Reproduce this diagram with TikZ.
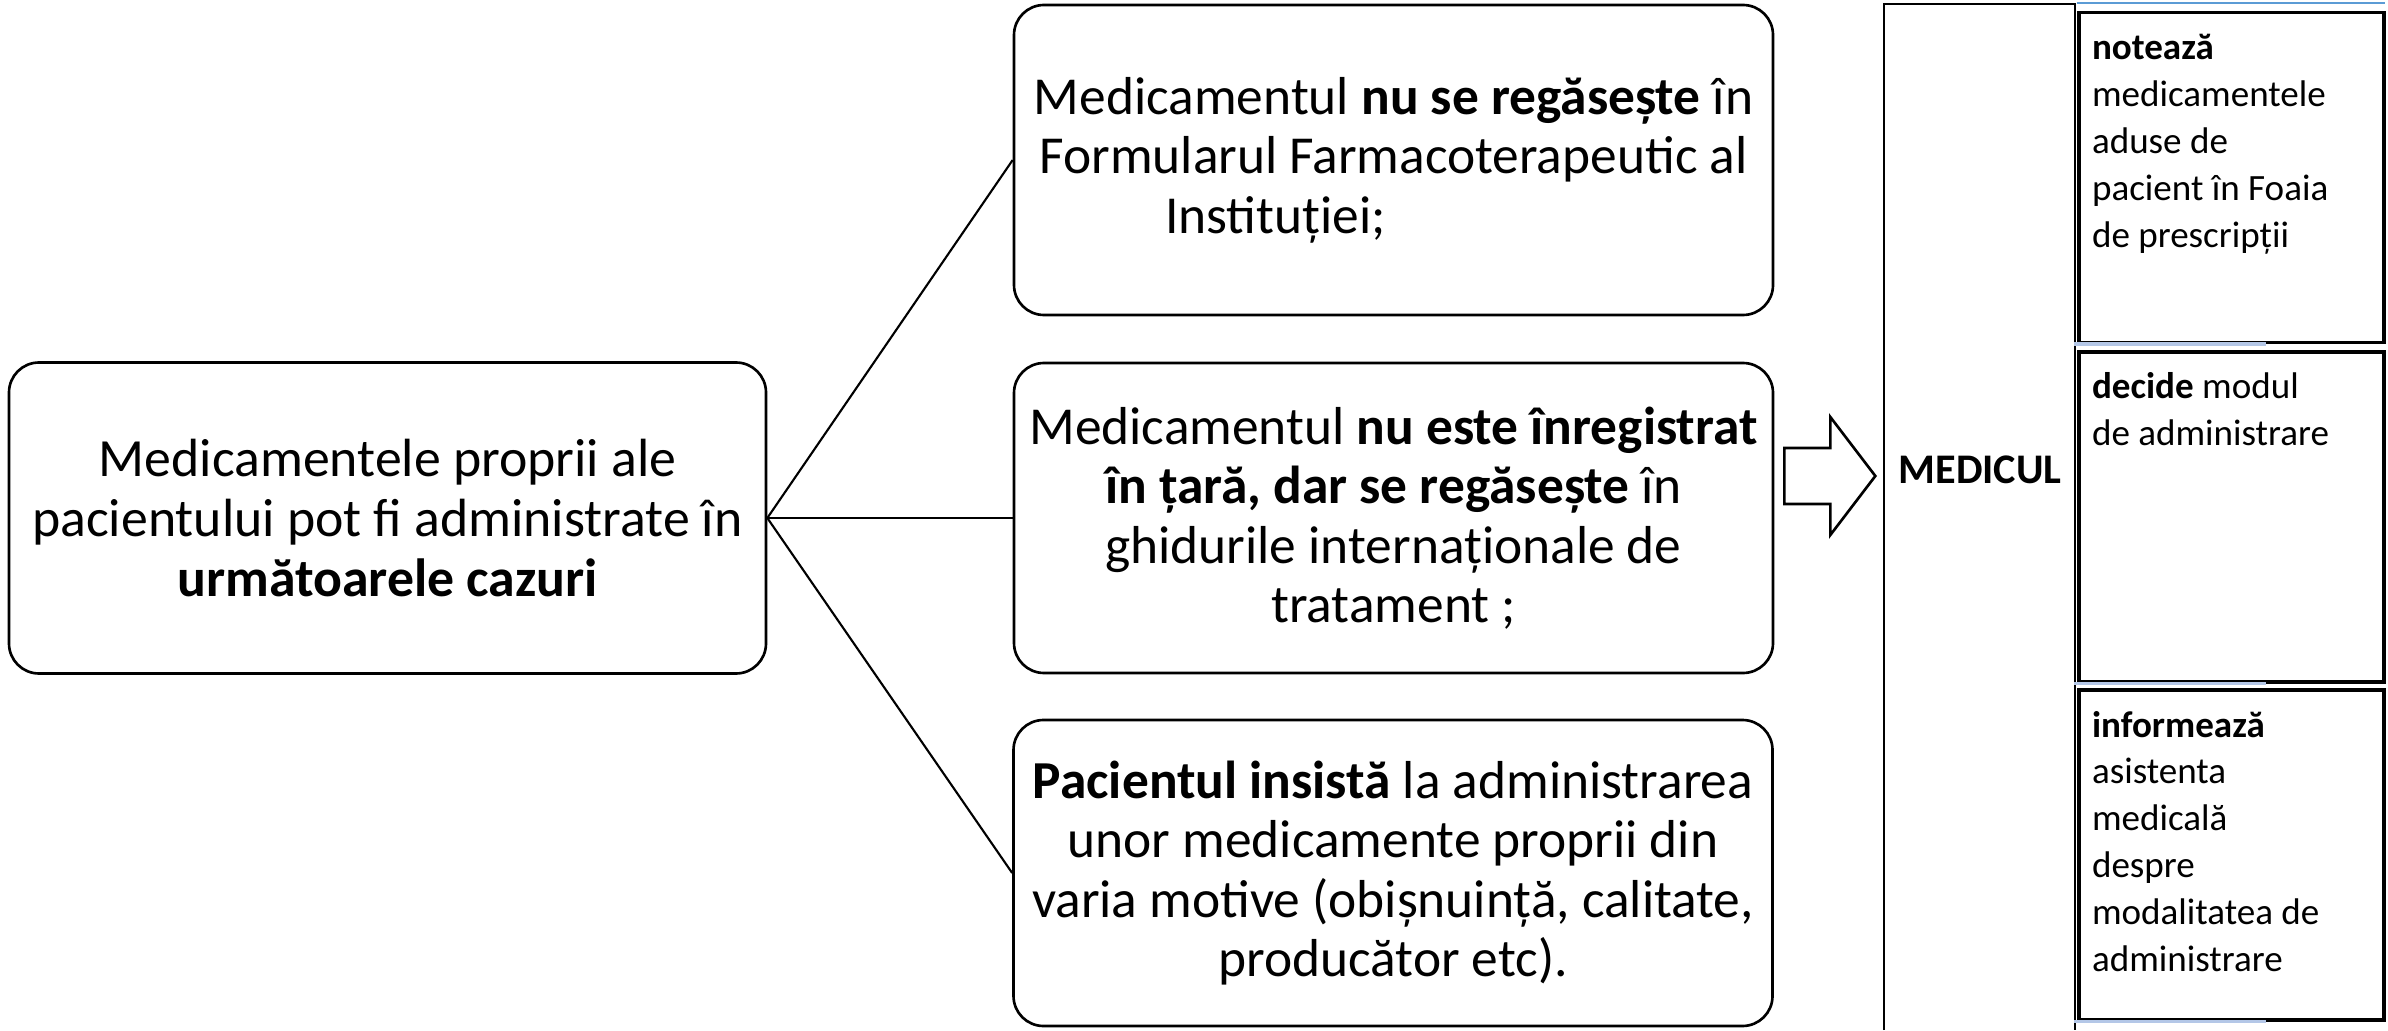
\documentclass[tikz,border=0pt]{standalone}
\usepackage{fontspec}
\setmainfont{Carlito}
\usepackage{tikz}
\usetikzlibrary{calc}

\definecolor{toplineblue}{RGB}{91,155,213}
\definecolor{paleline}{RGB}{180,199,231}

\begin{document}
\begin{tikzpicture}[
  casebox/.style={draw, line width=0.75pt, rounded corners=0.3cm,
    minimum width=7.59cm, minimum height=3.10cm, align=center,
    font=\fontsize{15.2}{16.9}\selectfont},
  taskbox/.style={draw, line width=0.9pt, minimum width=3.05cm,
    minimum height=3.30cm, inner xsep=0.13cm, inner ysep=0pt},
  link/.style={line width=0.6pt}
]
\useasboundingbox (0,0) rectangle (23.88,10.30);

\node[casebox, minimum width=7.57cm, minimum height=3.11cm,
  font=\fontsize{15.3}{17.0}\selectfont] (cazuri) at (3.875,5.12)
  {Medicamentele proprii ale\\pacientului pot fi administrate în\\\textbf{următoarele cazuri}};

\node[casebox] (formular) at (13.935,8.70)
  {Medicamentul \textbf{nu se regăsește} în\\Formularul Farmacoterapeutic al\\Instituției;\hspace*{2.36cm}};
\node[casebox] (ghiduri) at (13.935,5.12)
  {Medicamentul \textbf{nu este înregistrat}\\\textbf{în țară, dar se regăsește} în\\ghidurile internaționale de\\tratament ;};
\node[casebox, minimum height=3.06cm] (insista) at (13.93,1.57)
  {\textbf{Pacientul insistă} la administrarea\\unor medicamente proprii din\\varia motive (obișnuință, calitate,\\producător etc).};

\draw[link] (cazuri.east) -- (formular.west);
\draw[link] (cazuri.east) -- (ghiduri.west);
\draw[link] (cazuri.east) -- (insista.west);

\draw[line width=0.75pt] ($(ghiduri.east)+(0.10,0.70)$) -- ++(0.46,0) -- ++(0,0.31)
  -- ++(0.45,-0.59) -- ++(-0.45,-0.59) -- ++(0,0.31) -- ++(-0.46,0) -- cycle;

\draw[line width=0.75pt] (18.84,0) |- (20.75,10.26) -- (20.75,0);
\node[font=\fontsize{12.0}{14}\selectfont\bfseries] (medic) at (19.80,5.60) {MEDICUL};

\node[taskbox] (noteaza) at (22.315,8.525)
  {\parbox[t][3.30cm][t]{2.79cm}{\raggedright\fontsize{10.55}{13.35}\selectfont
   \rule{0pt}{0.47cm}\textbf{notează}\\medicamentele\\aduse de\\pacient în Foaia\\de prescripții}};
\node[taskbox] (decide) at (22.315,5.13)
  {\parbox[t][3.30cm][t]{2.79cm}{\raggedright\fontsize{10.55}{13.35}\selectfont
   \rule{0pt}{0.47cm}\textbf{decide} modul\\de administrare}};
\node[taskbox] (informeaza) at (22.315,1.75)
  {\parbox[t][3.30cm][t]{2.79cm}{\raggedright\fontsize{10.55}{13.35}\selectfont
   \rule{0pt}{0.47cm}\textbf{informează}\\asistenta\\medicală\\despre\\modalitatea de\\administrare}};

\draw[toplineblue, line width=0.6pt] (20.77,10.27) -- (23.85,10.27);
\draw[paleline, line width=1pt] (noteaza.south west) ++(-0.03,0) -- ++(1.92,0);
\draw[paleline, line width=1pt] (decide.south west) ++(-0.03,0) -- ++(1.92,0);
\draw[paleline, line width=1pt] (informeaza.south west) ++(-0.03,0) -- ++(1.92,0);

\end{tikzpicture}
\end{document}
